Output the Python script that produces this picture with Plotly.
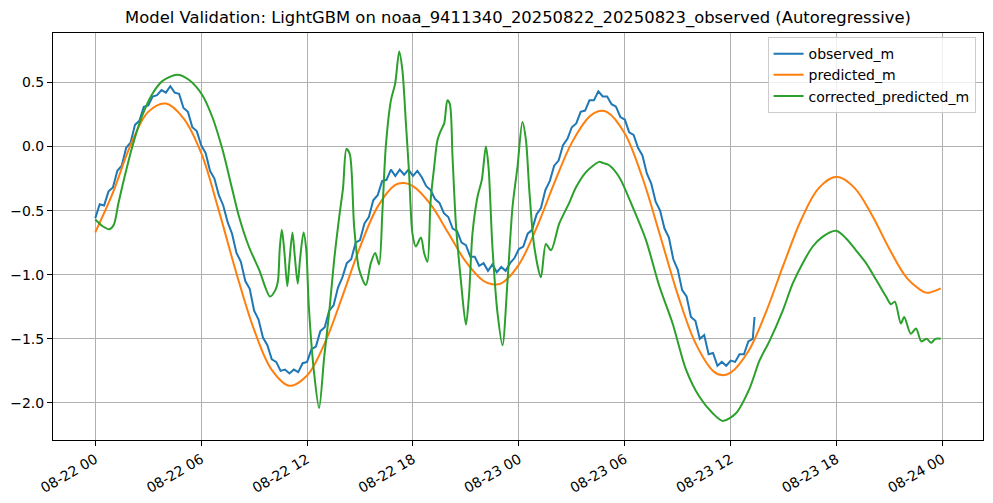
import pandas as pd
import plotly.graph_objects as go

# hours since 2025-08-22 00:00
start = pd.Timestamp("2025-08-22 00:00")

# observed water level (m), every 15 min, ends early on 08-23
obs_hours = [i * 0.25 for i in range(150)] + [37.35]
obs_m = [
    -0.56, -0.45, -0.46, -0.35, -0.32, -0.19, -0.15, -0.01, 0.03, 0.17,
    0.20, 0.31, 0.32, 0.39, 0.40, 0.44, 0.42, 0.47, 0.42, 0.41,
    0.30, 0.27, 0.15, 0.12, 0.01, -0.05, -0.19, -0.25, -0.38, -0.46,
    -0.59, -0.68, -0.83, -0.90, -1.05, -1.11, -1.28, -1.35, -1.49, -1.55,
    -1.66, -1.68, -1.75, -1.74, -1.77, -1.74, -1.76, -1.69, -1.68, -1.58,
    -1.56, -1.44, -1.41, -1.28, -1.24, -1.10, -1.02, -0.91, -0.88, -0.75,
    -0.73, -0.60, -0.55, -0.42, -0.38, -0.27, -0.26, -0.18, -0.23, -0.18,
    -0.22, -0.18, -0.23, -0.19, -0.24, -0.31, -0.34, -0.41, -0.44, -0.52,
    -0.55, -0.64, -0.66, -0.75, -0.77, -0.86, -0.86, -0.93, -0.91, -0.97,
    -0.92, -0.98, -0.94, -0.97, -0.91, -0.87, -0.80, -0.78, -0.68, -0.65,
    -0.53, -0.48, -0.34, -0.27, -0.15, -0.11, 0.01, 0.06, 0.15, 0.18,
    0.27, 0.28, 0.36, 0.36, 0.43, 0.39, 0.39, 0.33, 0.31, 0.23,
    0.21, 0.11, 0.09, -0.01, -0.07, -0.21, -0.29, -0.43, -0.50, -0.64,
    -0.71, -0.88, -0.96, -1.12, -1.17, -1.33, -1.36, -1.50, -1.47, -1.62,
    -1.61, -1.71, -1.68, -1.71, -1.67, -1.68, -1.62, -1.62, -1.52, -1.50,
    -1.33,
]

# model prediction (m)
pred_hours = [0, 1, 2, 3, 4, 5, 6, 7, 8, 9, 10, 11, 12, 13, 14, 15, 16, 17, 17.5,
              18, 19, 20, 21, 22, 22.5, 23, 24, 25, 26, 27, 28, 28.5, 29, 30, 31,
              32, 33, 34, 35, 35.5, 36, 37, 38, 39, 40, 41, 42, 43, 44, 45, 46,
              47, 47.25, 47.9]
pred_m = [-0.67, -0.36, 0.01, 0.27, 0.335, 0.22, -0.05, -0.50, -0.99, -1.43,
          -1.742, -1.866, -1.786, -1.534, -1.169, -0.784, -0.469, -0.299, -0.285,
          -0.309, -0.452, -0.675, -0.90, -1.049, -1.075, -1.068, -0.921, -0.635,
          -0.288, 0.03, 0.234, 0.275, 0.268, 0.101, -0.244, -0.694, -1.155,
          -1.532, -1.750, -1.783, -1.764, -1.597, -1.291, -0.92, -0.569, -0.323,
          -0.237, -0.321, -0.534, -0.801, -1.028, -1.138, -1.14, -1.107]

# corrected prediction (m)
corr_hours = [0.0, 0.4, 0.8, 1.05, 1.3, 1.55, 2.1, 2.66, 3.23, 3.8, 4.65, 5.3,
              6.07, 6.63, 7.2, 7.77, 8.15, 8.7, 9.28, 9.9, 10.2, 10.35, 10.45,
              10.57, 10.7, 10.88, 11.0, 11.17, 11.3, 11.47, 11.6, 11.8, 11.95,
              12.1, 12.4, 12.68, 12.97, 13.25, 13.53, 13.82, 14.04, 14.23, 14.42,
              14.67, 14.95, 15.33, 15.61, 15.86, 16.08, 16.27, 16.46, 16.75,
              16.99, 17.22, 17.4, 17.6, 17.78, 17.97, 18.16, 18.45, 18.63, 18.82,
              19.0, 19.2, 19.39, 19.6, 19.77, 19.95, 20.09, 20.24, 20.43, 20.71,
              21.0, 21.18, 21.37, 21.66, 21.9, 22.13, 22.28, 22.5, 22.79, 23.07,
              23.36, 23.64, 23.92, 24.2, 24.4, 24.59, 24.87, 25.25, 25.53, 25.82,
              26.29, 26.85, 27.23, 27.8, 28.2, 28.55, 28.8, 29.12, 29.69, 30.44,
              31.2, 31.96, 32.71, 33.47, 34.22, 34.98, 35.55, 36.3, 37.06, 37.63,
              38.19, 38.95, 39.51, 40.08, 40.65, 41.2, 41.97, 42.54, 43.1, 43.67,
              44.24, 44.8, 45.08, 45.3, 45.64, 45.83, 46.2, 46.5, 46.8, 47.1,
              47.36, 47.6, 47.9]
corr_m = [-0.57, -0.62, -0.645, -0.61, -0.45, -0.30, 0.0, 0.24, 0.41, 0.51, 0.56,
          0.52, 0.40, 0.23, -0.02, -0.34, -0.55, -0.78, -0.96, -1.17, -1.12,
          -1.05, -0.80, -0.65, -0.80, -1.09, -0.90, -0.67, -0.85, -1.07, -0.88,
          -0.67, -0.80, -1.25, -1.77, -2.04, -1.64, -1.30, -0.89, -0.55, -0.32,
          -0.02, -0.06, -0.63, -0.96, -1.08, -0.91, -0.83, -0.92, -0.50, 0.0,
          0.36, 0.49, 0.74, 0.595, 0.18, -0.21, -0.68, -0.78, -0.71, -0.83,
          -0.90, -0.42, -0.16, 0.05, 0.13, 0.18, 0.36, 0.33, -0.08, -0.60,
          -1.04, -1.39, -1.15, -0.68, -0.39, -0.26, 0.0, -0.16, -0.78, -1.30,
          -1.55, -1.04, -0.47, -0.16, 0.19, 0.05, -0.34, -0.78, -1.02, -0.76,
          -0.81, -0.60, -0.44, -0.32, -0.20, -0.15, -0.12, -0.13, -0.146, -0.24,
          -0.47, -0.73, -1.09, -1.38, -1.74, -1.95, -2.08, -2.14, -2.08, -1.89,
          -1.67, -1.52, -1.28, -1.07, -0.91, -0.78, -0.705, -0.658, -0.717,
          -0.81, -0.91, -1.04, -1.17, -1.23, -1.21, -1.38, -1.33, -1.46, -1.42,
          -1.52, -1.50, -1.53, -1.50, -1.50]

y_ticks = [-2.0, -1.5, -1.0, -0.5, 0.0, 0.5]


def to_time(hours):
    return start + pd.to_timedelta(hours, unit="h")


fig = go.Figure()

fig.add_trace(go.Scatter(
    x=to_time(obs_hours), y=obs_m, mode="lines",
    line=dict(color="#1f77b4", width=2),
    name="observed_m"
))
fig.add_trace(go.Scatter(
    x=to_time(pred_hours), y=pred_m, mode="lines",
    line=dict(color="#ff7f0e", width=2, shape="spline", smoothing=1.0),
    name="predicted_m"
))
fig.add_trace(go.Scatter(
    x=to_time(corr_hours), y=corr_m, mode="lines",
    line=dict(color="#2ca02c", width=2, shape="spline", smoothing=0.8),
    name="corrected_predicted_m"
))

axis_style = dict(
    showline=True, linecolor="black", linewidth=1, mirror=True,
    showgrid=True, gridcolor="#b0b0b0", gridwidth=1,
    ticks="outside", ticklen=5, tickcolor="black",
    zeroline=False, automargin=False,
    tickfont=dict(family="DejaVu Sans", size=14, color="black"),
)

fig.update_layout(
    width=993, height=503,
    margin=dict(l=53, r=10, t=33, b=63),
    paper_bgcolor="white", plot_bgcolor="white",
    font=dict(family="DejaVu Sans", color="black"),
    title=dict(
        text="Model Validation: LightGBM on noaa_9411340_20250822_20250823_observed (Autoregressive)",
        xref="paper", x=0.5, xanchor="center",
        yref="container", y=0.965, yanchor="middle",
        font=dict(size=16.4, family="DejaVu Sans", color="black")
    ),
    xaxis=dict(
        axis_style,
        range=[to_time(-2.395), to_time(50.295)],
        tick0=start, dtick=6 * 3600 * 1000,
        tickformat="%m-%d %H", tickangle=-30,
    ),
    yaxis=dict(
        axis_style,
        range=[-2.289, 0.885],
        tickvals=y_ticks, tickformat=".1f",
    ),
    legend=dict(
        x=0.992, y=0.99, xanchor="right", yanchor="top",
        bgcolor="rgba(255,255,255,0.8)", bordercolor="#cccccc", borderwidth=1,
        font=dict(family="DejaVu Sans", size=14, color="black"),
        tracegroupgap=0, itemwidth=30,
    ),
    showlegend=True,
)

# page has a default body margin; drop it so the figure sits at 0,0
fig.write_html("out.html", config={"displayModeBar": False},
               post_script="document.body.style.margin='0';")
